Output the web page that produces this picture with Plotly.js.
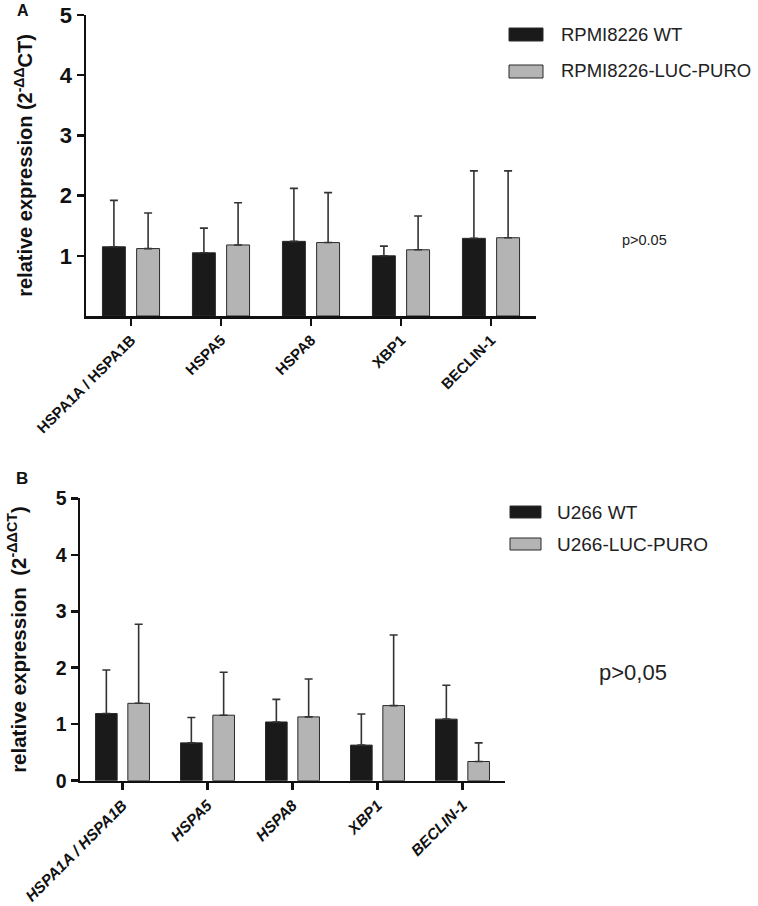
<!DOCTYPE html>
<html>
<head>
<meta charset="utf-8">
<script src="https://cdn.plot.ly/plotly-3.0.1.min.js"></script>
<style>html,body{margin:0;padding:0;background:#fff;}#chart{width:758px;height:906px;}</style>
</head>
<body>
<div id="chart"></div>
<script>
// ---- data ----
const genesA = ["HSPA1A / HSPA1B", "HSPA5", "HSPA8", "XBP1", "BECLIN-1"];
const genesB = ["HSPA1A / HSPA1B", "HSPA5", "HSPA8", "XBP1", "BECLIN-1"];

const seriesA1Name = "RPMI8226 WT";
const seriesA1Mean = [1.15, 1.05, 1.24, 1.00, 1.29];
const seriesA1SD   = [0.77, 0.41, 0.88, 0.16, 1.12];

const seriesA2Name = "RPMI8226-LUC-PURO";
const seriesA2Mean = [1.12, 1.18, 1.22, 1.10, 1.30];
const seriesA2SD   = [0.59, 0.70, 0.83, 0.56, 1.11];

const seriesB1Name = "U266 WT";
const seriesB1Mean = [1.19, 0.67, 1.04, 0.63, 1.09];
const seriesB1SD   = [0.77, 0.45, 0.40, 0.55, 0.60];

const seriesB2Name = "U266-LUC-PURO";
const seriesB2Mean = [1.37, 1.16, 1.13, 1.33, 0.34];
const seriesB2SD   = [1.40, 0.76, 0.67, 1.25, 0.33];

const yTicksA = [1, 2, 3, 4, 5];
const yTicksB = [0, 1, 2, 3, 4, 5];
const pTextA = "p>0.05";
const pTextB = "p>0,05";

// ---- styling ----
const W = 758, H = 906;
const px = x => x / W;
const py = y => 1 - y / H;
const BLACK = "#1a1a1a", GRAY = "#b4b4b4", EDGE = "#2a2a2a";
const FONT = "Liberation Sans, Arial, sans-serif";

function barTrace(name, x, mean, sd, color, xa, ya) {
  return {
    type: "bar", name: name, x: x, y: mean, xaxis: xa, yaxis: ya,
    marker: {color: color, line: {color: EDGE, width: 1}},
    error_y: {type: "data", symmetric: false, array: sd, arrayminus: sd.map(() => 0),
              color: "#333", thickness: 1.6, width: 4},
    showlegend: false, hoverinfo: "skip"
  };
}

const labelsB = genesB.map(g => "<i>" + g + "</i>");
const data = [
  barTrace(seriesA1Name, genesA, seriesA1Mean, seriesA1SD, BLACK, "x", "y"),
  barTrace(seriesA2Name, genesA, seriesA2Mean, seriesA2SD, GRAY, "x", "y"),
  barTrace(seriesB1Name, labelsB, seriesB1Mean, seriesB1SD, BLACK, "x2", "y2"),
  barTrace(seriesB2Name, labelsB, seriesB2Mean, seriesB2SD, GRAY, "x2", "y2")
];

const axBase = {
  showgrid: false, zeroline: false, showline: true, linecolor: "#111", linewidth: 2.5,
  ticks: "outside", ticklen: 7, tickwidth: 2.5, tickcolor: "#111", fixedrange: true
};

const layout = {
  width: W, height: H,
  margin: {l: 0, r: 0, t: 0, b: 0},
  paper_bgcolor: "#fff", plot_bgcolor: "#fff",
  barmode: "group", bargap: 0.24, bargroupgap: 0.33,
  showlegend: false,
  xaxis: Object.assign({}, axBase, {domain: [px(86), px(536)], anchor: "y", range: [-0.5, 4.5],
    tickangle: -45, tickfont: {family: FONT, size: 15, color: "#111", weight: "bold"}}),
  yaxis: Object.assign({}, axBase, {domain: [py(316), py(15)], anchor: "x", range: [0, 5],
    tickvals: yTicksA, ticktext: yTicksA.map(String),
    tickfont: {family: FONT, size: 22, color: "#111", weight: "bold"},
    title: {text: "<b>relative expression (2<sup>-ΔΔ</sup>CT)</b>", standoff: 22,
            font: {family: FONT, size: 20, color: "#111"}}}),
  xaxis2: Object.assign({}, axBase, {domain: [px(80), px(505)], anchor: "y2", range: [-0.5, 4.5],
    tickangle: -45, tickfont: {family: FONT, size: 15.5, color: "#111", weight: "bold"}}),
  yaxis2: Object.assign({}, axBase, {domain: [py(780.7), py(498.3)], anchor: "x2", range: [0, 5],
    tickvals: yTicksB, ticktext: yTicksB.map(String),
    tickfont: {family: FONT, size: 19.5, color: "#111", weight: "bold"},
    title: {text: "<b>relative expression  (2<sup>-ΔΔCT</sup>)</b>", standoff: 24,
            font: {family: FONT, size: 20.5, color: "#111"}}}),
  shapes: [
    {type: "rect", xref: "paper", yref: "paper", x0: px(509), x1: px(543), y0: py(41), y1: py(28),
     fillcolor: BLACK, line: {color: EDGE, width: 1}},
    {type: "rect", xref: "paper", yref: "paper", x0: px(509), x1: px(543), y0: py(78), y1: py(65),
     fillcolor: GRAY, line: {color: EDGE, width: 1}},
    {type: "rect", xref: "paper", yref: "paper", x0: px(510), x1: px(541), y0: py(518), y1: py(506),
     fillcolor: BLACK, line: {color: EDGE, width: 1}},
    {type: "rect", xref: "paper", yref: "paper", x0: px(510), x1: px(541), y0: py(550), y1: py(538),
     fillcolor: GRAY, line: {color: EDGE, width: 1}}
  ],
  annotations: [
    {text: "<b>A</b>", xref: "paper", yref: "paper", x: px(15), y: py(10), xanchor: "left", yanchor: "middle",
     showarrow: false, font: {family: FONT, size: 16, color: "#111"}},
    {text: "<b>B</b>", xref: "paper", yref: "paper", x: px(14), y: py(478), xanchor: "left", yanchor: "middle",
     showarrow: false, font: {family: FONT, size: 17, color: "#111"}},
    {text: seriesA1Name, xref: "paper", yref: "paper", x: px(559), y: py(35), xanchor: "left", yanchor: "middle",
     showarrow: false, font: {family: FONT, size: 18.5, color: "#222"}},
    {text: seriesA2Name, xref: "paper", yref: "paper", x: px(559), y: py(71), xanchor: "left", yanchor: "middle",
     showarrow: false, font: {family: FONT, size: 18.5, color: "#222"}},
    {text: seriesB1Name, xref: "paper", yref: "paper", x: px(555), y: py(512), xanchor: "left", yanchor: "middle",
     showarrow: false, font: {family: FONT, size: 19, color: "#222"}},
    {text: seriesB2Name, xref: "paper", yref: "paper", x: px(555), y: py(544), xanchor: "left", yanchor: "middle",
     showarrow: false, font: {family: FONT, size: 19, color: "#222"}},
    {text: pTextA, xref: "paper", yref: "paper", x: px(620), y: py(240), xanchor: "left", yanchor: "middle",
     showarrow: false, font: {family: FONT, size: 14.5, color: "#222"}},
    {text: pTextB, xref: "paper", yref: "paper", x: px(597), y: py(672), xanchor: "left", yanchor: "middle",
     showarrow: false, font: {family: FONT, size: 22, color: "#222"}}
  ]
};

Plotly.newPlot("chart", data, layout, {staticPlot: true, displayModeBar: false});
</script>
</body>
</html>
